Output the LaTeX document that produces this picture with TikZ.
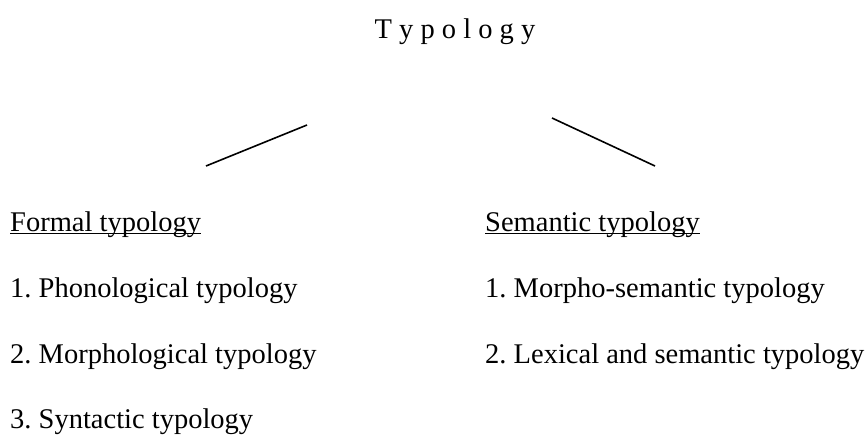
\documentclass[tikz,border=0pt]{standalone}
\usepackage{fontspec}
\setmainfont{Liberation Serif}
\frenchspacing
\begin{document}
\begin{tikzpicture}[x=1pt,y=-1pt,
every node/.style={inner sep=0pt,anchor=base west,font=\fontsize{28.5}{34}\selectfont},
branch/.style={line width=1.6pt},
uline/.style={line width=1.3pt}]
\useasboundingbox (0,0) rectangle (867,434);

\node[anchor=base] (root) at (455,38) {T y p o l o g y};

% the two branches
\coordinate (ltop) at (307,125);
\coordinate (lbot) at (206,166);
\coordinate (rtop) at (552,118);
\coordinate (rbot) at (655,166);
\draw[branch] (ltop) -- (lbot);
\draw[branch] (rtop) -- (rbot);

% left column
\node (formal) at (10,231) {Formal typology};
\node (phon) at (10,297) {1. Phonological typology};
\node (morph) at (10,363) {2. Morphological typology};
\node (synt) at (10,428) {3. Syntactic typology};

% right column
\node (sem) at (485,231) {Semantic typology};
\node (msem) at (485,297) {1. Morpho-semantic typology};
\node (lex) at (485,363) {2. Lexical and semantic typology};

\draw[uline] ([yshift=-2.5pt]formal.base west) -- ([yshift=-2.5pt]formal.base east);
\draw[uline] ([yshift=-2.5pt]sem.base west) -- ([yshift=-2.5pt]sem.base east);
\end{tikzpicture}
\end{document}
